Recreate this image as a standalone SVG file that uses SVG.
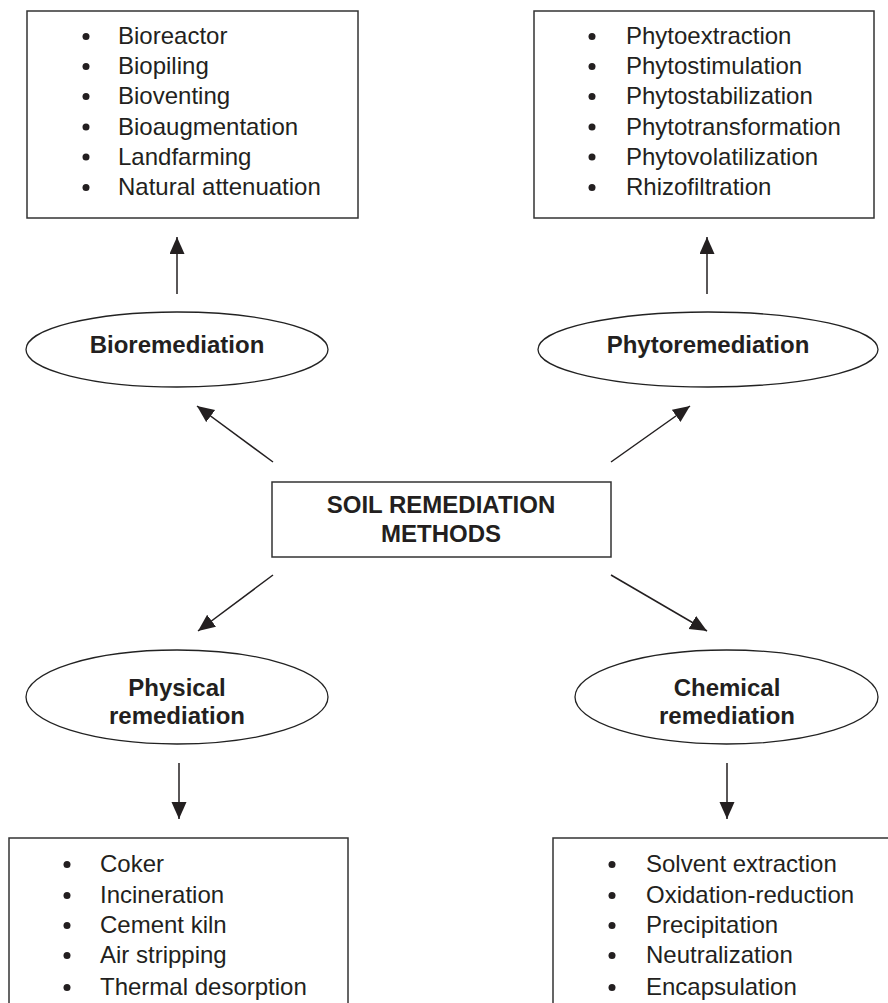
<svg xmlns="http://www.w3.org/2000/svg" width="888" height="1003" viewBox="0 0 888 1003">
<style>
.box{fill:#fff;stroke:#333;stroke-width:1.5}
.ell{fill:#fff;stroke:#222;stroke-width:1.3}
.item{font-family:"Liberation Sans",Arial,sans-serif;font-size:24px;fill:#231f20}
.lbl{font-family:"Liberation Sans",Arial,sans-serif;font-size:24px;font-weight:bold;fill:#231f20;text-anchor:middle}
.dot{fill:#231f20}
.conn{stroke:#231f20;stroke-width:1.5;fill:none;marker-end:url(#ah)}
</style>
<defs>
<marker id="ah" markerUnits="userSpaceOnUse" markerWidth="18" markerHeight="16" refX="17" refY="7.5" orient="auto">
<path d="M0,0 L17,7.5 L0,15 z" fill="#231f20"/>
</marker>
</defs>
<rect width="888" height="1003" fill="#fff"/>

<g id="bio-list">
<rect class="box" x="27" y="11" width="331" height="207"/>
<g class="dot"><circle cx="86" cy="36.5" r="3.5"/><circle cx="86" cy="66.5" r="3.5"/><circle cx="86" cy="96.5" r="3.5"/><circle cx="86" cy="127" r="3.5"/><circle cx="86" cy="157" r="3.5"/><circle cx="86" cy="187.5" r="3.5"/></g>
<text class="item" x="118" y="44">Bioreactor</text>
<text class="item" x="118" y="74">Biopiling</text>
<text class="item" x="118" y="104">Bioventing</text>
<text class="item" x="118" y="135">Bioaugmentation</text>
<text class="item" x="118" y="165">Landfarming</text>
<text class="item" x="118" y="195">Natural attenuation</text>
</g>

<g id="phyto-list">
<rect class="box" x="534" y="11" width="340" height="207"/>
<g class="dot"><circle cx="592" cy="36.5" r="3.5"/><circle cx="592" cy="66.5" r="3.5"/><circle cx="592" cy="96.5" r="3.5"/><circle cx="592" cy="127" r="3.5"/><circle cx="592" cy="157" r="3.5"/><circle cx="592" cy="187.5" r="3.5"/></g>
<text class="item" x="626" y="44">Phytoextraction</text>
<text class="item" x="626" y="74">Phytostimulation</text>
<text class="item" x="626" y="104">Phytostabilization</text>
<text class="item" x="626" y="135">Phytotransformation</text>
<text class="item" x="626" y="165">Phytovolatilization</text>
<text class="item" x="626" y="195">Rhizofiltration</text>
</g>

<g id="bioremediation">
<ellipse class="ell" cx="177" cy="349.5" rx="151" ry="37.5"/>
<text class="lbl" x="177" y="353">Bioremediation</text>
</g>

<g id="phytoremediation">
<ellipse class="ell" cx="708" cy="349.5" rx="170" ry="37.5"/>
<text class="lbl" x="708" y="353">Phytoremediation</text>
</g>

<g id="soil-remediation-methods">
<rect class="box" x="272" y="482" width="339" height="75"/>
<text class="lbl" x="441" y="513">SOIL REMEDIATION</text>
<text class="lbl" x="441" y="542">METHODS</text>
</g>

<g id="physical-remediation">
<ellipse class="ell" cx="177" cy="697" rx="151" ry="47"/>
<text class="lbl" x="177" y="696">Physical</text>
<text class="lbl" x="177" y="724">remediation</text>
</g>

<g id="chemical-remediation">
<ellipse class="ell" cx="726.5" cy="697" rx="151.5" ry="47"/>
<text class="lbl" x="727" y="696">Chemical</text>
<text class="lbl" x="727" y="724">remediation</text>
</g>

<g id="physical-list">
<rect class="box" x="9" y="838" width="339" height="175"/>
<g class="dot"><circle cx="67" cy="864.5" r="3.5"/><circle cx="67" cy="895.5" r="3.5"/><circle cx="67" cy="925.5" r="3.5"/><circle cx="67" cy="955.5" r="3.5"/><circle cx="67" cy="987.5" r="3.5"/></g>
<text class="item" x="100" y="872">Coker</text>
<text class="item" x="100" y="903">Incineration</text>
<text class="item" x="100" y="933">Cement kiln</text>
<text class="item" x="100" y="963">Air stripping</text>
<text class="item" x="100" y="995">Thermal desorption</text>
</g>

<g id="chemical-list">
<rect class="box" x="553" y="838" width="345" height="175"/>
<g class="dot"><circle cx="612" cy="864.5" r="3.5"/><circle cx="612" cy="895.5" r="3.5"/><circle cx="612" cy="925.5" r="3.5"/><circle cx="612" cy="955.5" r="3.5"/><circle cx="612" cy="987.5" r="3.5"/></g>
<text class="item" x="646" y="872">Solvent extraction</text>
<text class="item" x="646" y="903">Oxidation-reduction</text>
<text class="item" x="646" y="933">Precipitation</text>
<text class="item" x="646" y="963">Neutralization</text>
<text class="item" x="646" y="995">Encapsulation</text>
</g>

<g id="connectors">
<line class="conn" x1="177" y1="294" x2="177" y2="237"/>
<line class="conn" x1="707" y1="294" x2="707" y2="237"/>
<line class="conn" x1="273" y1="462" x2="197" y2="406"/>
<line class="conn" x1="611" y1="462" x2="690" y2="406"/>
<line class="conn" x1="273" y1="575" x2="198" y2="631"/>
<line class="conn" x1="611" y1="575" x2="707" y2="631"/>
<line class="conn" x1="179" y1="763" x2="179" y2="819"/>
<line class="conn" x1="727" y1="763" x2="727" y2="819"/>
</g>
</svg>
